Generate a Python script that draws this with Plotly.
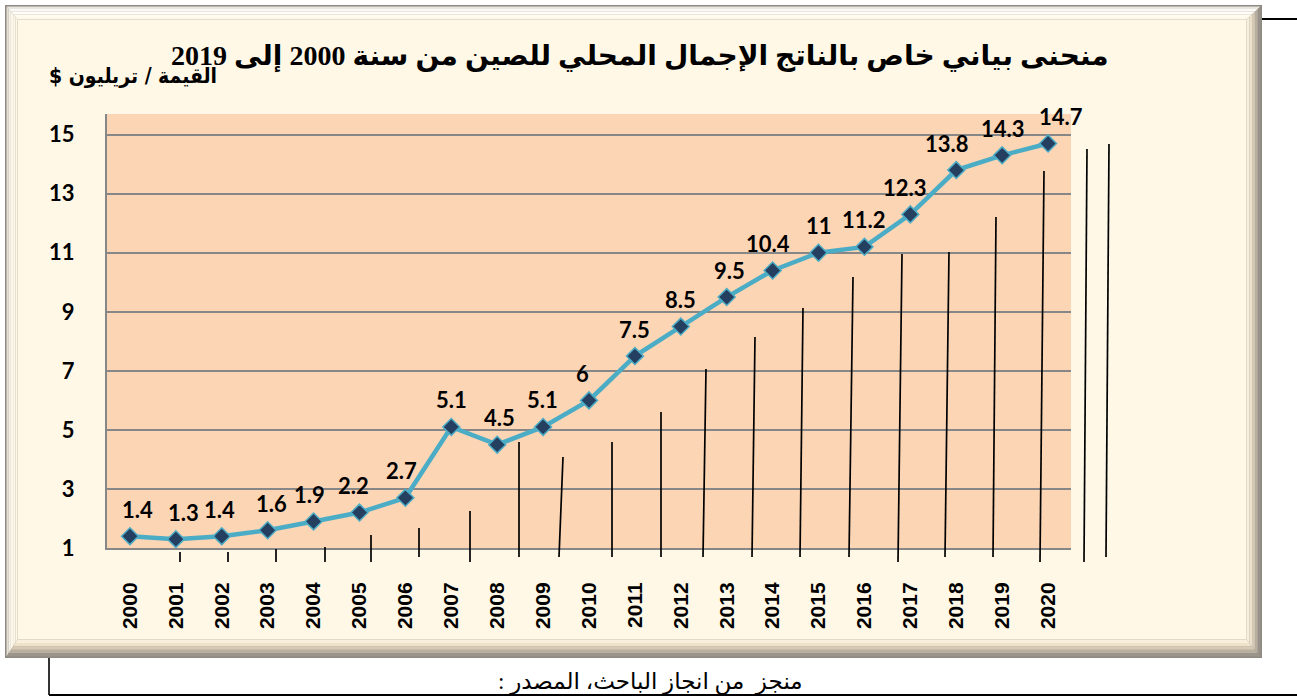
import plotly.graph_objects as go

# ---------------- data ----------------
years = list(range(2000, 2021))
gdp = [1.4, 1.3, 1.4, 1.6, 1.9, 2.2, 2.7, 5.1, 4.5, 5.1, 6, 7.5, 8.5, 9.5, 10.4, 11, 11.2, 12.3, 13.8, 14.3, 14.7]
gdp_labels = ["1.4", "1.3", "1.4", "1.6", "1.9", "2.2", "2.7", "5.1", "4.5", "5.1", "6", "7.5", "8.5",
              "9.5", "10.4", "11", "11.2", "12.3", "13.8", "14.3", "14.7"]
y_ticks = [1, 3, 5, 7, 9, 11, 13, 15]
title_text = "منحنى بياني خاص بالناتج الإجمال المحلي للصين من سنة 2000 إلى 2019"
yaxis_title = "القيمة / تريليون $"
source_text = "منجز  من انجاز الباحث، المصدر :"

# ---------------- style / layout ----------------
label_dx = [8, 8, -2, 4, -4, -6, -4, 0, 2, -1, -7, 0, 0, 3, -5, 0, 0, -5, -9, 1, 13]
W, H = 1297, 698
PL, PR, PT, PB = 107, 1071, 114, 548
CREAM = "#fff8e7"
PEACH = "#fcd5b4"
GRID = "#878787"
LINE = "#4bacc6"
MARK = "#243f60"
RLE, PDF = "\u202B", "\u202C"


def px(x):
    return (x - PL) / (PR - PL)


def py(y):
    return (PB - y) / (PB - PT)


def poly(pts, color, layer="below"):
    path = "M " + " L ".join(f"{px(x):.5f},{py(y):.5f}" for x, y in pts) + " Z"
    return dict(type="path", xref="paper", yref="paper", path=path,
                fillcolor=color, line=dict(width=0), layer=layer)


def seg(x0, y0, x1, y1, color="black", width=1.8, layer="above"):
    return dict(type="line", xref="paper", yref="paper", x0=px(x0), y0=py(y0), x1=px(x1), y1=py(y1),
                line=dict(color=color, width=width), layer=layer)


shapes = []
# outer frame
FL, FT, FR, FB = 5, 5, 1262, 658
shapes.append(poly([(FL, FT), (FR, FT), (FR, FB), (FL, FB)], "#8e8981"))
L, T, R, B = FL + 1.5, FT + 1.5, FR - 1.5, FB - 1.5
wt, wl, wb, wr = 13, 11, 17, 14
top_cols = ["#e9e6e0", "#fbfaf6", "#fffdf6", "#fffbef", "#fff9eb"]
left_cols = ["#e4dfd5", "#f6f1e6", "#fbf6e9", "#fdf7e8", "#fef8e7"]
bot_cols = ["#9b958b", "#b9b0a0", "#d6cab4", "#eee2ca", "#f9efdb"]
right_cols = ["#98928a", "#b8afa1", "#d5cab6", "#ece1cc", "#f8f0de"]
n = 5
for i in range(n):
    f0, f1 = i / n, (i + 1) / n
    o = (L + wl * f0, T + wt * f0, R - wr * f0, B - wb * f0)
    q = (L + wl * f1, T + wt * f1, R - wr * f1, B - wb * f1)
    shapes.append(poly([(o[0], o[1]), (o[2], o[1]), (q[2], q[1]), (q[0], q[1])], top_cols[i]))
    shapes.append(poly([(o[0], o[1]), (q[0], q[1]), (q[0], q[3]), (o[0], o[3])], left_cols[i]))
    shapes.append(poly([(o[0], o[3]), (q[0], q[3]), (q[2], q[3]), (o[2], o[3])], bot_cols[i]))
    shapes.append(poly([(o[2], o[1]), (o[2], o[3]), (q[2], q[3]), (q[2], q[1])], right_cols[i]))
shapes.append(poly([(L + wl, T + wt), (R - wr, T + wt), (R - wr, B - wb), (L + wl, B - wb)], CREAM))
# plot background
shapes.append(poly([(PL, PT), (PR, PT), (PR, PB), (PL, PB)], PEACH))

# stray page lines around the frame
shapes.append(seg(1262, 19, 1297, 19, width=2))
shapes.append(seg(49, 695, 1297, 695, width=2.2))
shapes.append(seg(49, 658, 49, 695, width=1.6))

# stray vertical strokes over the chart (from the source document)
strokes = [(180, 562, 180, 552), (228, 562, 228, 552), (276, 562, 276, 549), (325, 562, 325, 547),
           (371, 562, 371, 535), (419, 557, 419, 528), (470, 562, 470, 511), (519, 557, 519, 442),
           (559, 557, 563, 457), (612, 557, 612, 442), (661, 557, 661, 412), (703, 557, 706, 369),
           (752, 557, 755, 337), (800, 557, 803, 308), (849, 557, 853, 277), (898, 562, 902, 254),
           (945, 557, 949, 252), (993, 557, 996, 217), (1040, 562, 1044, 171), (1084, 562, 1087, 149),
           (1106, 557, 1109, 144)]
for xb, yb, xt, yt in strokes:
    shapes.append(seg(xb, yb, xt, yt, width=1.7))

fig = go.Figure()
fig.add_trace(go.Scatter(
    x=years, y=gdp, mode="lines+markers",
    line=dict(color=LINE, width=4.5),
    marker=dict(symbol="diamond", size=13, color=MARK, line=dict(color=LINE, width=1.5)),
    hoverinfo="x+y", showlegend=False,
))

annotations = []
lab_font = dict(family="Lato, 'Open Sans', sans-serif", size=22, color="black", weight="bold")
for i, (xv, yv, t) in enumerate(zip(years, gdp, gdp_labels)):
    annotations.append(dict(x=xv, y=yv, xref="x", yref="y", text=t, showarrow=False,
                            xanchor="center", yanchor="middle", yshift=27, xshift=label_dx[i],
                            font=lab_font))

annotations.append(dict(x=px(640), y=py(56), xref="paper", yref="paper", text=RLE + title_text + PDF,
                        showarrow=False, xanchor="center", yanchor="middle",
                        font=dict(family="'Liberation Serif', 'DejaVu Sans', serif", size=28,
                                  color="black", weight="bold")))
annotations.append(dict(x=px(133), y=py(76), xref="paper", yref="paper", text=RLE + yaxis_title + PDF,
                        showarrow=False, xanchor="center", yanchor="middle",
                        font=dict(family="'DejaVu Sans Condensed', 'DejaVu Sans', sans-serif", size=21,
                                  color="black", weight="bold")))
annotations.append(dict(x=px(650), y=py(682), xref="paper", yref="paper", text=RLE + source_text + PDF,
                        showarrow=False, xanchor="center", yanchor="middle",
                        font=dict(family="'Liberation Serif', 'DejaVu Sans', serif", size=23, color="black")))

fig.update_layout(
    width=W, height=H,
    margin=dict(l=PL, r=W - PR, t=PT, b=H - PB, pad=0),
    paper_bgcolor="white", plot_bgcolor="rgba(0,0,0,0)",
    shapes=shapes, annotations=annotations,
    xaxis=dict(range=[1999.5, 2020.5], tickvals=years, ticktext=[str(y) for y in years],
               tickangle=-90, showgrid=False, zeroline=False, showline=True, linecolor=GRID,
               linewidth=2, ticks="", ticklabelstandoff=24,
               tickfont=dict(family="'Liberation Sans', Arial, sans-serif", size=21, color="black",
                             weight="bold")),
    yaxis=dict(range=[1, 15.7], tickvals=y_ticks, showgrid=True, gridcolor=GRID, gridwidth=1.8,
               zeroline=False, showline=True, linecolor=GRID, linewidth=2, ticks="",
               ticklabelstandoff=26,
               tickfont=dict(family="Lato, 'Open Sans', sans-serif", size=22, color="black",
                             weight="bold")),
)

fig.write_html("out.html", config={"displayModeBar": False},
               post_script="document.body.style.margin='0';document.body.style.overflow='hidden';")
